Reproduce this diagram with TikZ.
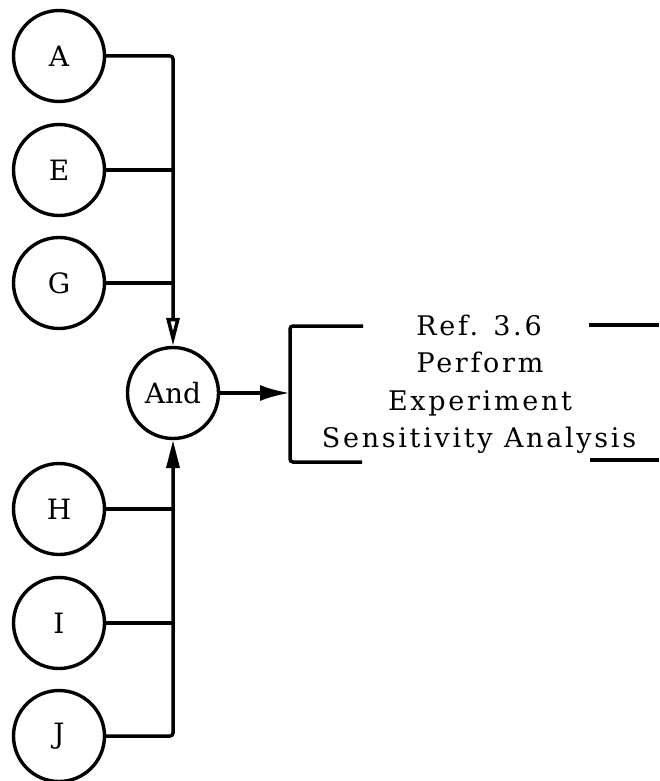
\documentclass[tikz,border=0pt]{standalone}
\usepackage{fontspec}
\setmainfont{DejaVu Serif}
\newfontfamily\spaced[LetterSpace=10]{DejaVu Serif}
\usetikzlibrary{arrows.meta}
\begin{document}
\begin{tikzpicture}[x=1pt,y=-1pt,
  circ/.style={draw, circle, line width=3.4pt, minimum size=91pt, inner sep=0pt,
    font=\fontsize{28}{28}\selectfont},
  wire/.style={line width=3.5pt, rounded corners=3pt},
  boxtext/.style={anchor=base, inner sep=0pt, font=\spaced\fontsize{27}{27}\selectfont},
  downtip/.style={-{Triangle[open,length=28pt,width=13pt]}},
  uptip/.style={-{Triangle[length=28pt,width=13pt]}},
  righttip/.style={-{Latex[length=30pt,width=16pt]}}
]
\useasboundingbox (0,0) rectangle (659,781);
% input circles
\node[circ] (a) at (59,56) {A};
\node[circ] (e) at (59,170) {E};
\node[circ] (g) at (59,283) {G};
\node[circ] (h) at (59,509) {H};
\node[circ] (i) at (59,623) {I};
\node[circ] (j) at (59,736) {J};
% and gate
\node[circ] (and) at (173,393) {And};
% upper bus
\draw[wire, downtip] (a.east) -| (and.north);
\draw[wire] (e.east) -- (e.east -| and.north);
\draw[wire] (g.east) -- (g.east -| and.north);
% lower bus
\draw[wire, uptip] (j.east) -| (and.south);
\draw[wire] (h.east) -- (h.east -| and.south);
\draw[wire] (i.east) -- (i.east -| and.south);
% bracket
\coordinate (bk) at (290,393);
\draw[wire, righttip] (and.east) -- (bk);
\draw[wire] (363,326) -- (290,326) -- (290,462) -- (362,462);
\draw[wire] (589,325) -- (659,325);
\draw[wire] (590,460) -- (659,460);
% text
\node[boxtext] (l1) at (479,335) {Ref. 3.6};
\node[boxtext] (l2) at (480,372) {Perform};
\node[boxtext] (l3) at (480,410) {Experiment};
\node[boxtext] (l4) at (479,447) {Sensitivity Analysis};
\end{tikzpicture}
\end{document}
